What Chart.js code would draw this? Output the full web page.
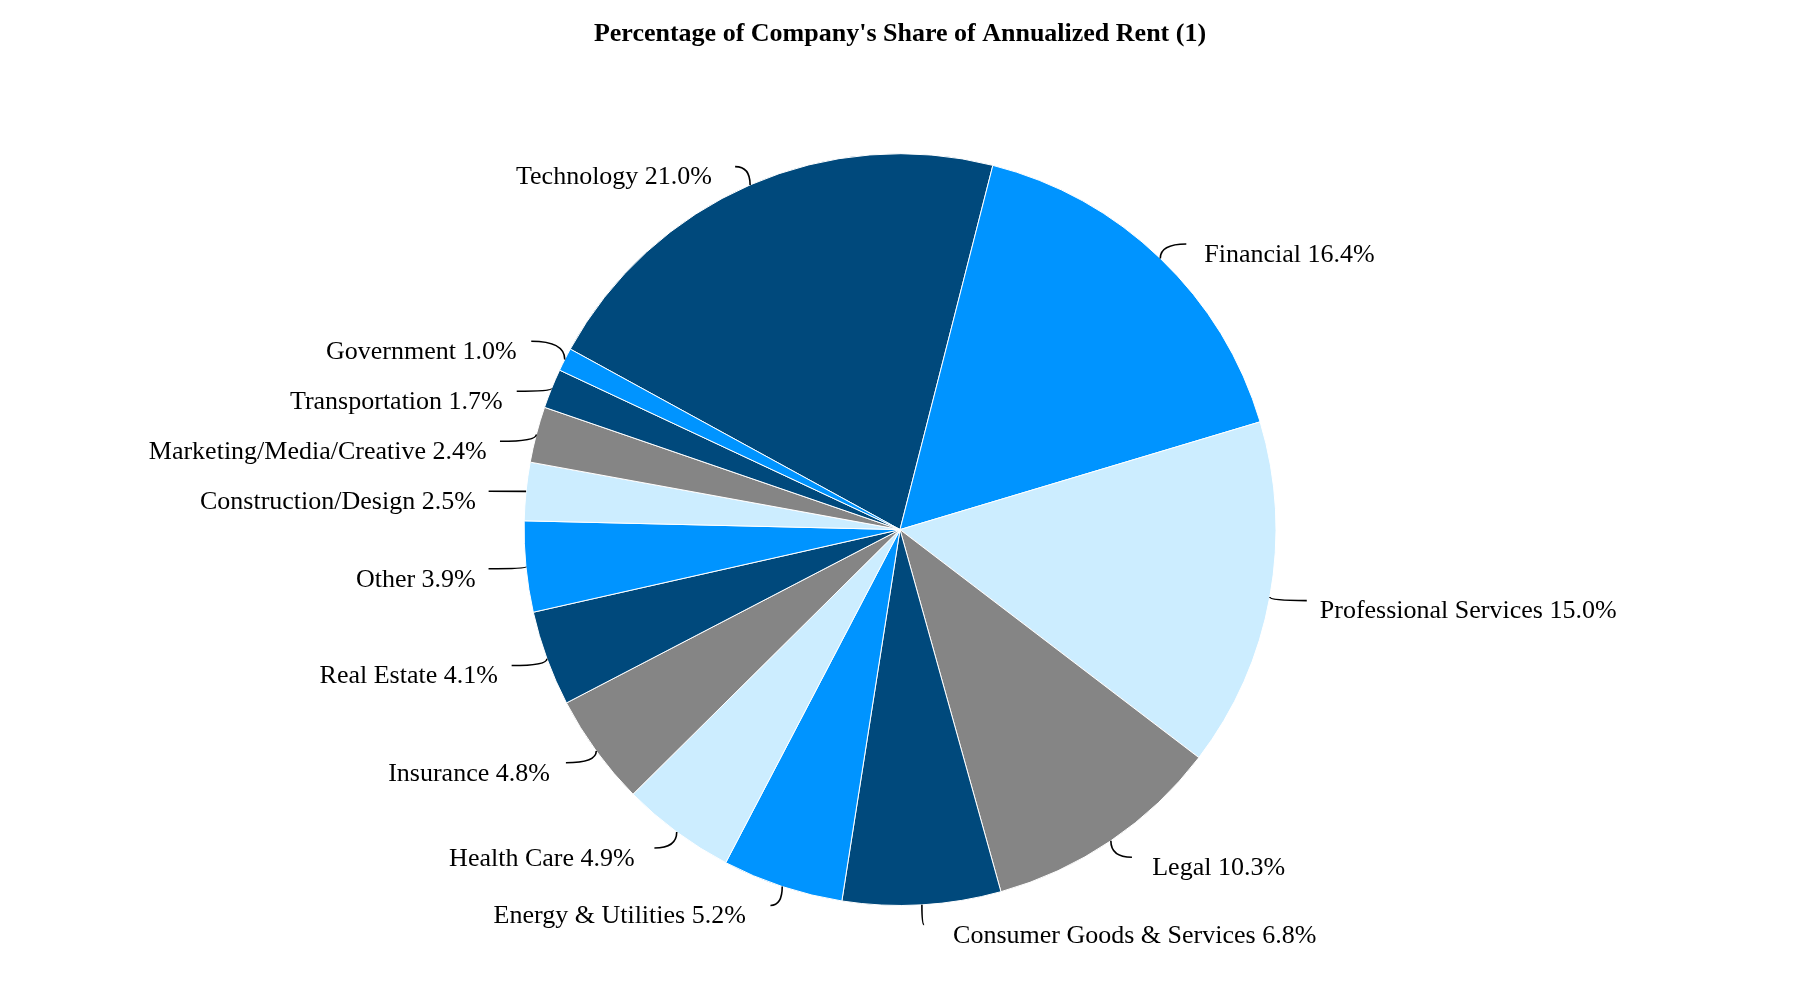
<!DOCTYPE html>
<html>
<head>
<meta charset="utf-8">
<script src="https://cdn.jsdelivr.net/npm/chart.js@4.4.1/dist/chart.umd.min.js"></script>
<style>
  html, body { margin: 0; padding: 0; background: #fff; }
  #wrap { width: 1800px; height: 1000px; }
</style>
</head>
<body>
<div id="wrap"><canvas id="pie"></canvas></div>
<script>
// data, clockwise starting from Technology
const sectors = [
    "Technology", "Financial", "Professional Services", "Legal",
    "Consumer Goods & Services", "Energy & Utilities", "Health Care",
    "Insurance", "Real Estate", "Other", "Construction/Design",
    "Marketing/Media/Creative", "Transportation", "Government"
];
const shares = [21.0, 16.4, 15.0, 10.3, 6.8, 5.2, 4.9, 4.8, 4.1, 3.9, 2.5, 2.4, 1.7, 1.0];
const palette = ["#00497C", "#0094FF", "#CCEDFF", "#858585"];

const FONT = "'Liberation Serif', 'Times New Roman', serif";
const MIN_GAP = 50;

// outside labels with little curved leaders
const sliceLabels = {
    id: "sliceLabels",
    afterDatasetsDraw(chart) {
        const ctx = chart.ctx;
        const meta = chart.getDatasetMeta(0);
        const items = meta.data.map((arc, i) => {
            const p = arc.getProps(["x", "y", "startAngle", "endAngle", "outerRadius"], true);
            const a = (p.startAngle + p.endAngle) / 2;
            const c = Math.cos(a), s = Math.sin(a);
            const r = p.outerRadius;
            return {
                text: sectors[i] + " " + shares[i].toFixed(1) + "%",
                right: c >= 0,
                sx: p.x + r * c,
                sy: p.y + r * s,
                ex: p.x + 1.1 * r * c,
                tx: p.x + 1.054 * r * c + (c >= 0 ? 30 : -30),
                ey: p.y + 1.053 * r * s
            };
        });
        // push crowded labels apart (upper one gives a bit less)
        [true, false].forEach(side => {
            const g = items.filter(o => o.right === side).sort((a, b) => a.ey - b.ey);
            for (let it = 0; it < 60; it++) {
                for (let k = 1; k < g.length; k++) {
                    const d = g[k].ey - g[k - 1].ey;
                    if (d < MIN_GAP) {
                        g[k - 1].ey -= 0.35 * (MIN_GAP - d);
                        g[k].ey += 0.65 * (MIN_GAP - d);
                    }
                }
            }
        });
        ctx.save();
        ctx.strokeStyle = "#000";
        ctx.lineWidth = 1.6;
        ctx.fillStyle = "#000";
        ctx.font = "26px " + FONT;
        ctx.textBaseline = "middle";
        items.forEach(o => {
            ctx.beginPath();
            ctx.moveTo(o.sx, o.sy);
            ctx.quadraticCurveTo(o.sx, o.ey, o.ex, o.ey);
            ctx.stroke();
            ctx.textAlign = o.right ? "left" : "right";
            ctx.fillText(o.text, o.tx, o.ey + 11);
        });
        ctx.restore();
    }
};

new Chart(document.getElementById("pie"), {
    type: "pie",
    data: {
        labels: sectors,
        datasets: [{
            data: shares,
            backgroundColor: sectors.map((_, i) => palette[i % palette.length]),
            borderColor: "#ffffff",
            borderWidth: 1
        }]
    },
    options: {
        responsive: true,
        maintainAspectRatio: false,
        animation: false,
        devicePixelRatio: 1,
        rotation: -61.3,
        layout: { padding: { top: 0, bottom: 94, left: 0, right: 0 } },
        plugins: {
            legend: { display: false },
            tooltip: { enabled: false },
            title: {
                display: true,
                text: "Percentage of Company's Share of Annualized Rent (1)",
                color: "#000",
                font: { family: FONT, size: 26, weight: "bold", lineHeight: 1.2 },
                padding: { top: 19, bottom: 103 }
            }
        }
    },
    plugins: [sliceLabels]
});
</script>
</body>
</html>
